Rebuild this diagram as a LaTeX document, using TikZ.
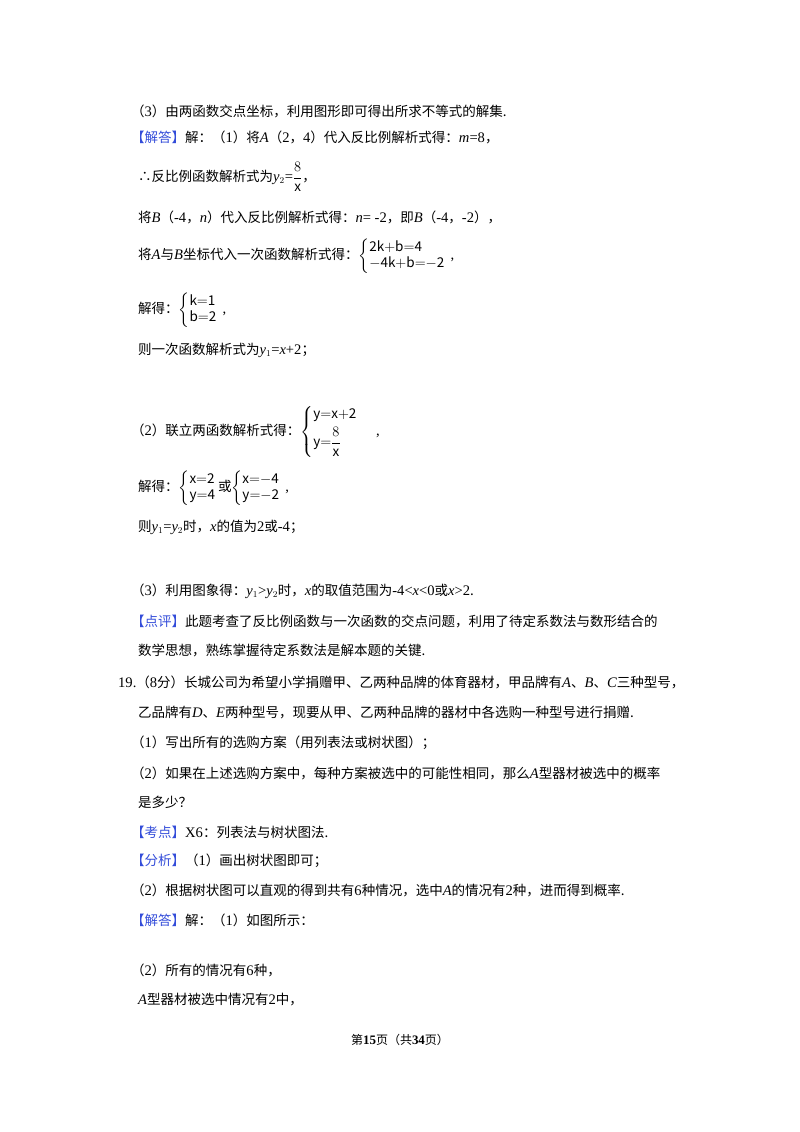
\documentclass[tikz,border=0pt]{standalone}
\usepackage{amsmath}
\usepackage{fontspec}
\setmainfont{Noto Sans CJK SC}
\newfontfamily\lat[Scale=1.08]{Liberation Serif}
\newcommand\vi[1]{{\lat\itshape #1}}
\newcommand\nm[1]{{\lat #1}}
\definecolor{tagblue}{rgb}{0.2,0.3,0.85}
\newcommand\btag[1]{\textcolor{tagblue}{【#1】}}
\begin{document}
\begin{tikzpicture}[x=1pt,y=-1pt,
  ln/.style={anchor=west,inner sep=0pt,font=\fontsize{13.5}{16}\selectfont}]
\useasboundingbox (0,0) rectangle (800,1132);
\node[ln] (l1) at (131,111) {（\nm{3}）由两函数交点坐标，利用图形即可得出所求不等式的解集.};
\node[ln] (l2) at (131,137) {\btag{解答}解：（\nm{1}）将\vi{A}（\nm{2}，\nm{4}）代入反比例解析式得：\vi{m}\nm{=8}，};
\node[ln] (l3) at (138,177) {∴反比例函数解析式为\vi{y}$_2$\nm{=}$\dfrac{8}{\mathrm{x}}$，};
\node[ln] (l4) at (138,217) {将\vi{B}（\nm{-4}，\vi{n}）代入反比例解析式得：\vi{n}\nm{= -2}，即\vi{B}（\nm{-4}，\nm{-2}），};
\node[ln] (l5) at (138,256) {将\vi{A}与\vi{B}坐标代入一次函数解析式得：$\left\{\begin{array}{@{}l}\mathrm{2k{+}b{=}4}\\ \mathrm{{-}4k{+}b{=}{-}2}\end{array}\right.$\nm{,}};
\node[ln] (l6) at (138,310) {解得：$\left\{\begin{array}{@{}l}\mathrm{k{=}1}\\ \mathrm{b{=}2}\end{array}\right.$\nm{,}};
\node[ln] (l7) at (138,350) {则一次函数解析式为\vi{y}$_1$\nm{=}\vi{x}\nm{+2}；};
\node[ln] (l8) at (131,432) {（\nm{2}）联立两函数解析式得：$\left\{\begin{array}{@{}l}\mathrm{y{=}x{+}2}\\[4pt] \mathrm{y}{=}\dfrac{8}{\mathrm{x}}\end{array}\right.$\quad\nm{,}};
\node[ln] (l9) at (138,488) {解得：$\left\{\begin{array}{@{}l}\mathrm{x{=}2}\\ \mathrm{y{=}4}\end{array}\right.$\hspace{-3pt}或$\left\{\begin{array}{@{}l}\mathrm{x{=}{-}4}\\ \mathrm{y{=}{-}2}\end{array}\right.$\nm{,}};
\node[ln] (l10) at (138,527) {则\vi{y}$_1$\nm{=}\vi{y}$_2$时，\vi{x}的值为\nm{2}或\nm{-4}；};
\node[ln] (l11) at (131,591) {（\nm{3}）利用图象得：\vi{y}$_1$\nm{>}\vi{y}$_2$时，\vi{x}的取值范围为\nm{-4<}\vi{x}\nm{<0}或\vi{x}\nm{>2}.};
\node[ln] (l12) at (131,621) {\btag{点评}此题考查了反比例函数与一次函数的交点问题，利用了待定系数法与数形结合的};
\node[ln] (l13) at (138,650) {数学思想，熟练掌握待定系数法是解本题的关键.};
\node[ln] (l14) at (118,682) {\nm{19.}（\nm{8}分）长城公司为希望小学捐赠甲、乙两种品牌的体育器材，甲品牌有\vi{A}、\vi{B}、\vi{C}三种型号，};
\node[ln] (l15) at (138,712) {乙品牌有\vi{D}、\vi{E}两种型号，现要从甲、乙两种品牌的器材中各选购一种型号进行捐赠.};
\node[ln] (l16) at (131,743) {（\nm{1}）写出所有的选购方案（用列表法或树状图）；};
\node[ln] (l17) at (131,773) {（\nm{2}）如果在上述选购方案中，每种方案被选中的可能性相同，那么\vi{A}型器材被选中的概率};
\node[ln] (l18) at (138,802) {是多少？};
\node[ln] (l19) at (131,832) {\btag{考点}\nm{X6}：列表法与树状图法.};
\node[ln] (l20) at (131,861) {\btag{分析}（\nm{1}）画出树状图即可；};
\node[ln] (l21) at (131,890) {（\nm{2}）根据树状图可以直观的得到共有\nm{6}种情况，选中\vi{A}的情况有\nm{2}种，进而得到概率.};
\node[ln] (l22) at (131,920) {\btag{解答}解：（\nm{1}）如图所示：};
\node[ln] (l23) at (131,970) {（\nm{2}）所有的情况有\nm{6}种，};
\node[ln] (l24) at (138,1000) {\vi{A}型器材被选中情况有\nm{2}中，};
\node[anchor=center,inner sep=0pt,font=\fontsize{12}{14}\selectfont] (ft) at (400,1040) {第\textbf{\nm{15}}页（共\textbf{\nm{34}}页）};
\end{tikzpicture}
\end{document}
